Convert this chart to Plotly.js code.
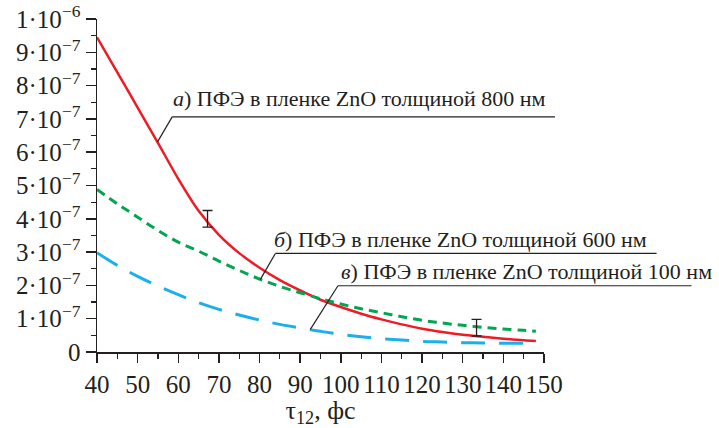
<!DOCTYPE html>
<html>
<head>
<meta charset="utf-8">
<script src="https://cdn.plot.ly/plotly-3.0.1.min.js"></script>
<style>html,body{margin:0;padding:0;background:#fff;}#chart{width:719px;height:428px;}</style>
</head>
<body>
<div id="chart"></div>
<script>
// Data (y values in units of 1e-7)
const tau = [40,45,50,55,60,65,70,75,80,85,90,95,100,105,110,115,120,125,130,135,140,145,148];
const seriesA = [9.45,8.4,7.34,6.28,5.2,4.24,3.52,2.97,2.53,2.16,1.85,1.57,1.35,1.15,0.98,0.83,0.70,0.60,0.52,0.46,0.40,0.35,0.33];
const seriesB = [4.88,4.45,4.05,3.65,3.3,3.03,2.73,2.45,2.19,1.97,1.78,1.60,1.44,1.30,1.18,1.06,0.95,0.87,0.80,0.74,0.69,0.65,0.62];
const seriesC = [2.98,2.60,2.27,1.98,1.72,1.48,1.28,1.11,0.96,0.83,0.72,0.62,0.53,0.46,0.40,0.36,0.32,0.30,0.28,0.27,0.26,0.26,0.26];
const errX = [67.2, 133.4];
const errY = [4.0, 0.73];
const errSize = [0.25, 0.25];
const xTicks = [40,50,60,70,80,90,100,110,120,130,140,150];
const yTickVals = [0,1,2,3,4,5,6,7,8,9,10];
const yTickText = ["0","1·10<sup>−7</sup>","2·10<sup>−7</sup>","3·10<sup>−7</sup>","4·10<sup>−7</sup>","5·10<sup>−7</sup>","6·10<sup>−7</sup>","7·10<sup>−7</sup>","8·10<sup>−7</sup>","9·10<sup>−7</sup>","1·10<sup>−6</sup>"];
const labels = [
  "<i>а</i>) ПФЭ в пленке ZnO толщиной 800 нм",
  "<i>б</i>) ПФЭ в пленке ZnO толщиной 600 нм",
  "<i>в</i>) ПФЭ в пленке ZnO толщиной 100 нм"
];
const S = 1e-7;
const scale = a => a.map(v => v * S);
const FONT = 'Liberation Serif';

const X0 = 40, X1 = 150, Y0 = 0, Y1 = 10;
const px = x => (x - X0) / (X1 - X0);
const py = y => (y - Y0) / (Y1 - Y0);

// callout geometry in data units: [tipX, tipY, lineStartX, lineY, lineEndX, textX, textBottomY]
const callouts = [
  [54.9, 6.31, 58.5, 7.06, 152.7, 58.55, 7.21],
  [80.2, 2.18, 83.9, 2.96, 177.7, 83.35, 2.98],
  [92.5, 0.68, 99.3, 1.99, 186.3, 99.8, 2.02]
];

const shapes = [];
const annotations = [];
callouts.forEach((c, i) => {
  shapes.push({type:'line', xref:'paper', yref:'paper', x0:px(c[0]), y0:py(c[1]), x1:px(c[2]), y1:py(c[3]), line:{color:'#222', width:1.2}});
  shapes.push({type:'line', xref:'paper', yref:'paper', x0:px(c[2]), y0:py(c[3]), x1:px(c[4]), y1:py(c[3]), line:{color:'#222', width:1.2}});
  annotations.push({xref:'paper', yref:'paper', x:px(c[5]), y:py(c[6]), xanchor:'left', yanchor:'bottom',
    text: labels[i], showarrow:false, font:{family:FONT, size:22, color:'#231f20'}, borderpad:0});
});

const traces = [
  {x:tau, y:scale(seriesA), mode:'lines', line:{color:'#ed1c24', width:2.5, shape:'spline', smoothing:0.8}, name:'а'},
  {x:tau, y:scale(seriesB), mode:'lines', line:{color:'#00a651', width:3, dash:'9px,6px', shape:'spline'}, name:'б'},
  {x:tau, y:scale(seriesC), mode:'lines', line:{color:'#1cb0ea', width:3, dash:'24px,14px', shape:'spline'}, name:'в'},
  {x:errX, y:scale(errY), mode:'markers', marker:{size:1, color:'rgba(0,0,0,0)'},
   error_y:{type:'data', array:scale(errSize), visible:true, color:'#231f20', thickness:1.3, width:5}}
];

const layout = {
  width:719, height:428,
  margin:{l:97, r:175, t:19, b:76},
  paper_bgcolor:'#fff', plot_bgcolor:'#fff',
  showlegend:false,
  font:{family:FONT, color:'#231f20'},
  xaxis:{range:[X0, X1], tickvals:xTicks, ticks:'outside', ticklen:9, tickwidth:1.5, tickcolor:'#231f20',
    showline:true, linecolor:'#231f20', linewidth:1.5, showgrid:false, zeroline:false,
    tickfont:{family:FONT, size:25}, minor:{dtick:5, ticklen:5, tickwidth:1.2, tickcolor:'#231f20', showgrid:false, ticks:'outside'},
    title:{text:'τ<sub>12</sub>, фс', font:{family:FONT, size:26}, standoff:2}},
  yaxis:{range:[Y0*S, Y1*S], tickvals:scale(yTickVals), ticktext:yTickText, ticks:'outside', ticklen:10, tickwidth:1.5, tickcolor:'#231f20',
    showline:true, linecolor:'#231f20', linewidth:1.5, showgrid:false, zeroline:false,
    tickfont:{family:FONT, size:25}, minor:{dtick:0.5*S, ticklen:5, tickwidth:1.2, tickcolor:'#231f20', showgrid:false, ticks:'outside'}},
  shapes:shapes,
  annotations:annotations
};

Plotly.newPlot('chart', traces, layout, {displayModeBar:false, staticPlot:true});
</script>
</body>
</html>
